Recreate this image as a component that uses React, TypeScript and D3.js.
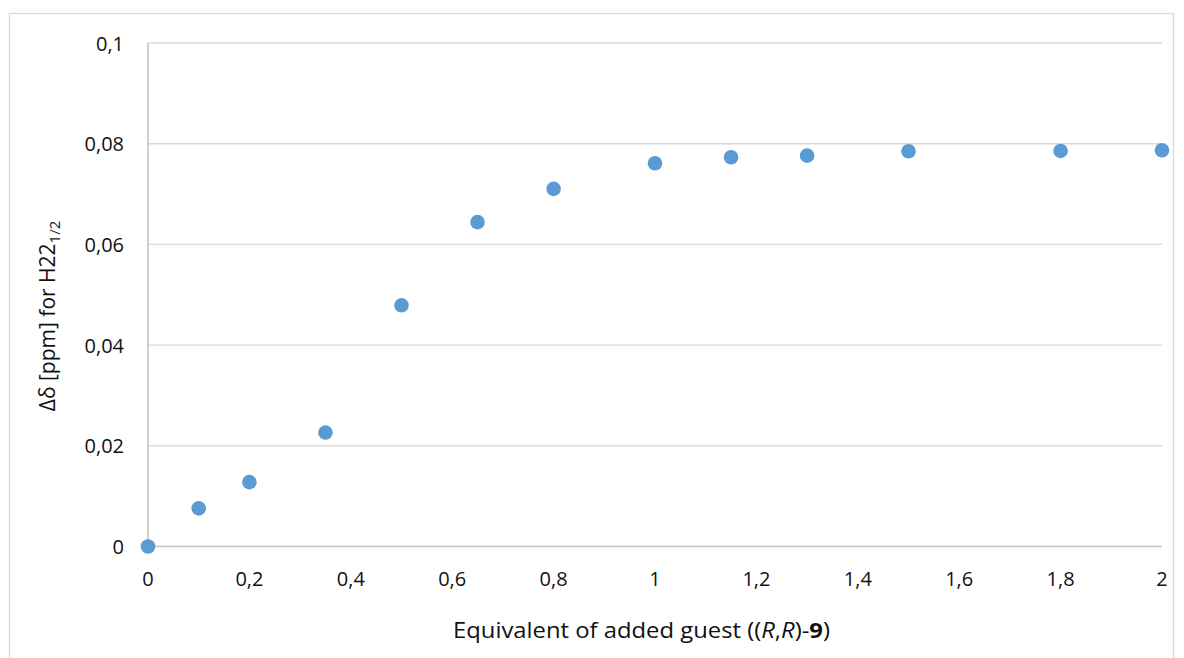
import * as d3 from 'd3'

// Titration data: equivalents of guest vs. chemical shift change
const equivalents = [0, 0.1, 0.2, 0.35, 0.5, 0.65, 0.8, 1, 1.15, 1.3, 1.5, 1.8, 2]
const deltaPpm    = [0, 0.00757, 0.01278, 0.02263, 0.0479, 0.06443, 0.07103, 0.07612, 0.07731, 0.07763, 0.0785, 0.07856, 0.0787]

const xDomain = [0, 2]
const yDomain = [0, 0.1]

const W = 1184
const H = 658
const PLOT = { left: 148, right: 1162, top: 43, bottom: 546.5 }

const FONT = '"Open Sans", Lato, sans-serif'
const POINT_COLOR = '#5b9bd5'

const locale = d3.formatLocale({ decimal: ',', thousands: '.', grouping: [3], currency: ['', ''] })
const fmt = locale.format('~g')

export default function App() {
  const x = d3.scaleLinear().domain(xDomain).range([PLOT.left, PLOT.right])
  const y = d3.scaleLinear().domain(yDomain).range([PLOT.bottom, PLOT.top])

  const xTicks = x.ticks(10)
  const yTicks = y.ticks(5)

  const points = equivalents.map((e, i) => ({ e, d: deltaPpm[i] }))

  return (
    <svg
      width={W}
      height={H}
      style={{ position: 'absolute', left: 0, top: 0, background: '#fff' }}
    >
      {/* Chart area border */}
      <rect x={9.5} y={13.5} width={1164} height={700} fill="#fff" stroke="#d9d9d9" strokeWidth={1.3} />

      {/* Horizontal gridlines */}
      {yTicks.filter(t => t > 0).map(t => (
        <line key={t} x1={PLOT.left} x2={PLOT.right} y1={y(t)} y2={y(t)}
          stroke="#d9d9d9" strokeWidth={1.4} />
      ))}

      {/* Axes */}
      <line x1={PLOT.left} x2={PLOT.left} y1={PLOT.top} y2={PLOT.bottom} stroke="#c4c4c4" strokeWidth={1.6} />
      <line x1={PLOT.left} x2={PLOT.right} y1={PLOT.bottom} y2={PLOT.bottom} stroke="#c4c4c4" strokeWidth={1.6} />

      {/* Y tick labels */}
      {yTicks.map(t => (
        <text key={t} x={124} y={y(t)} textAnchor="end" dominantBaseline="central"
          style={{ fontSize: 20, fontFamily: FONT, fill: '#111' }}>
          {fmt(t)}
        </text>
      ))}

      {/* X tick labels */}
      {xTicks.map(t => (
        <text key={t} x={x(t)} y={586} textAnchor="middle"
          style={{ fontSize: 20, fontFamily: FONT, fill: '#111' }}>
          {fmt(t)}
        </text>
      ))}

      {/* Points */}
      {points.map((p, i) => (
        <circle key={i} cx={x(p.e)} cy={y(p.d)} r={7.3} fill={POINT_COLOR} />
      ))}

      {/* X title */}
      <text x={453} y={638} textLength={377} lengthAdjust="spacingAndGlyphs"
        style={{ fontSize: 21, fontFamily: FONT, fill: '#111' }}>
        Equivalent of added guest ((<tspan fontStyle="italic">R</tspan>,<tspan fontStyle="italic">R</tspan>)-<tspan fontWeight="bold">9</tspan>)
      </text>

      {/* Y title */}
      <text transform="translate(55,316) rotate(-90)" textAnchor="middle"
        style={{ fontSize: 21, fontFamily: FONT, fill: '#111' }}>
        Δδ [ppm] for H22<tspan fontSize={15} dy={5}>1/2</tspan>
      </text>
    </svg>
  )
}
